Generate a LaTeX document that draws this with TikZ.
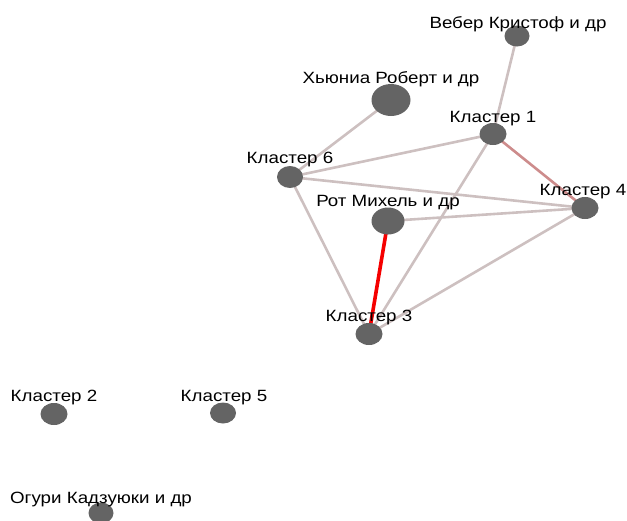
\documentclass[tikz,border=0pt]{standalone}
\usepackage{fontspec}
\setmainfont{Liberation Sans}
\usetikzlibrary{backgrounds,shapes.geometric}
\definecolor{nodegray}{RGB}{100,100,100}
\definecolor{edgegray}{RGB}{205,192,192}
\definecolor{edgepink}{RGB}{205,140,140}
\definecolor{edgered}{RGB}{245,0,0}
\newcommand{\wlab}[1]{\scalebox{1.15}[1]{#1}}
\tikzset{
  dot/.style 2 args={ellipse, fill=nodegray, inner sep=0pt, minimum width=#1, minimum height=#2},
  lbl/.style={font=\fontsize{16.3}{18}\selectfont, inner sep=0pt, anchor=base},
  link/.style={draw=edgegray, line width=2.6pt},
  pinklink/.style={draw=edgepink, line width=2.6pt},
  redlink/.style={draw=edgered, line width=3.6pt},
}
\begin{document}
\begin{tikzpicture}[x=1pt,y=-1pt]
\useasboundingbox (0,0) rectangle (627,520);
\node[dot={25pt}{21pt}] (weber) at (517,36) {};
\node[dot={39pt}{32pt}] (hyunia) at (391,100) {};
\node[dot={27pt}{22pt}] (c1) at (493,134) {};
\node[dot={26pt}{22pt}] (c6) at (290,177) {};
\node[dot={27pt}{22pt}] (c4) at (585,208) {};
\node[dot={33pt}{27pt}] (roth) at (388,221) {};
\node[dot={27pt}{22pt}] (c3) at (369,334) {};
\node[dot={27pt}{22pt}] (c2) at (54,414) {};
\node[dot={26pt}{21pt}] (c5) at (223,413) {};
\node[dot={25pt}{21pt}] (oguri) at (101,513) {};
\node[lbl] (lweber) at (518,28) {\wlab{Вебер Кристоф и др}};
\node[lbl] (lhyunia) at (391,83) {\wlab{Хьюниа Роберт и др}};
\node[lbl] (lc1) at (493,122) {\wlab{Кластер 1}};
\node[lbl] (lc6) at (290,163) {\wlab{Кластер 6}};
\node[lbl] (lc4) at (583,195) {\wlab{Кластер 4}};
\node[lbl] (lroth) at (388,206) {\wlab{Рот Михель и др}};
\node[lbl] (lc3) at (369,321) {\wlab{Кластер 3}};
\node[lbl] (lc2) at (54,401) {\wlab{Кластер 2}};
\node[lbl] (lc5) at (224,401) {\wlab{Кластер 5}};
\node[lbl] (loguri) at (101,503) {\wlab{Огури Кадзуюки и др}};
\begin{scope}[on background layer]
\draw[link] (weber.center) -- (c1.center);
\draw[link] (hyunia.center) -- (c6.center);
\draw[link] (c6.center) -- (c1.center);
\draw[link] (c6.center) -- (c4.center);
\draw[link] (c6.center) -- (c3.center);
\draw[link] (c1.center) -- (c3.center);
\draw[link] (roth.center) -- (c4.center);
\draw[link] (c4.center) -- (c3.center);
\draw[pinklink] (c1.center) -- (c4.center);
\draw[redlink] (roth.center) -- (c3.center);
\end{scope}
\end{tikzpicture}
\end{document}
